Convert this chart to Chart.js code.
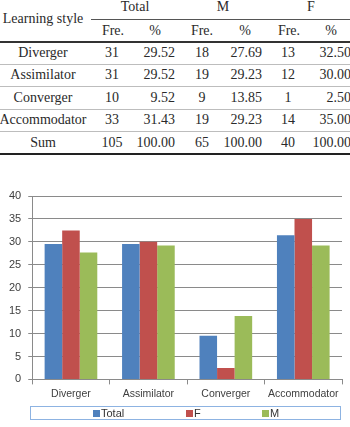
<!DOCTYPE html>
<html><head><meta charset="utf-8">
<script src="https://cdn.jsdelivr.net/npm/chart.js@4/dist/chart.umd.min.js"></script>
<style>
html,body{margin:0;padding:0;background:#fff;width:350px;height:427px;overflow:hidden;position:relative;}
#tbl{position:absolute;left:0;top:0;width:350px;height:160px;font-family:"Liberation Serif","Times New Roman",serif;font-size:14px;color:#2a2a2a;overflow:hidden;}
.t{position:absolute;white-space:nowrap;line-height:16px;height:16px;}
.c{transform:translateX(-50%);}
.r{transform:translateX(-100%);}
.ln{position:absolute;}
#wrap{position:absolute;left:0;top:160px;width:350px;height:267px;}
#leg{position:absolute;left:30px;top:406px;width:309px;height:12px;border:1px solid #8db3e2;font-family:"Liberation Sans",Arial,sans-serif;font-size:11px;color:#333;}
.li{position:absolute;top:0;line-height:12px;white-space:nowrap;}
.sw{display:inline-block;width:7px;height:7px;margin-right:1px;vertical-align:-0px;}
</style></head><body>
<div id="tbl"></div>
<div id="wrap"><canvas id="c" width="350" height="267"></canvas></div>
<div id="leg"></div>
<script>
// ---- data ----
const categories = ["Diverger", "Assimilator", "Converger", "Accommodator"];
const totalFreq = [31, 31, 10, 33];
const totalPct = [29.52, 29.52, 9.52, 31.43];
const maleFreq = [18, 19, 9, 19];
const malePct = [27.69, 29.23, 13.85, 29.23];
const femaleFreq = [13, 12, 1, 14];
const femalePct = [32.50, 30.00, 2.50, 35.00];
const sumRow = ["Sum", "105", "100.00", "65", "100.00", "40", "100.00"];
const seriesLabels = ["Total", "F", "M"];
const seriesColors = ["#4F81BD", "#C0504D", "#9BBB59"];

// ---- table ----
const tbl = document.getElementById('tbl');
function addText(txt, x, y, align) {
  const s = document.createElement('span');
  s.className = 't ' + (align === 'r' ? 'r' : 'c');
  s.textContent = txt;
  s.style.left = x + 'px';
  s.style.top = (y - 8) + 'px';
  tbl.appendChild(s);
}
function addLine(x1, x2, y, h, color) {
  const d = document.createElement('div');
  d.className = 'ln';
  d.style.left = x1 + 'px'; d.style.width = (x2 - x1) + 'px';
  d.style.top = y + 'px'; d.style.height = h + 'px';
  d.style.background = color;
  tbl.appendChild(d);
}
addText("Learning style", 43, 19);
addText("Total", 135, 7); addText("M", 223, 7); addText("F", 311, 7);
addLine(91, 350, 19, 1, "#555");
[[113, "Fre."], [155, "%"], [202, "Fre."], [245, "%"], [289, "Fre."], [331, "%"]].forEach(a => addText(a[1], a[0], 31));
addLine(0, 350, 41, 2, "#333");
const rowY = [53, 75, 98, 120];
categories.forEach((c, i) => {
  addText(c, 43, rowY[i]);
  addText(String(totalFreq[i]), 112, rowY[i]);
  addText(totalPct[i].toFixed(2), 175, rowY[i], 'r');
  addText(String(maleFreq[i]), 202, rowY[i]);
  addText(malePct[i].toFixed(2), 262, rowY[i], 'r');
  addText(String(femaleFreq[i]), 288, rowY[i]);
  addText(femalePct[i].toFixed(2), 351, rowY[i], 'r');
});
addText(sumRow[0], 43, 143);
addText(sumRow[1], 112, 143);
addText(sumRow[2], 175, 143, 'r');
addText(sumRow[3], 202, 143);
addText(sumRow[4], 262, 143, 'r');
addText(sumRow[5], 288, 143);
addText(sumRow[6], 351, 143, 'r');
[64, 86, 109, 131].forEach(y => addLine(0, 350, y, 1, "#bdbdbd"));
addLine(0, 350, 153, 2, "#222");

// ---- chart ----
const seriesData = [totalPct, femalePct, malePct];
const chart = new Chart(document.getElementById('c'), {
  type: 'bar',
  data: {
    labels: categories,
    datasets: seriesLabels.map((l, i) => ({
      label: l, data: seriesData[i], backgroundColor: seriesColors[i],
      borderWidth: 0, categoryPercentage: 0.68, barPercentage: 1.0
    }))
  },
  options: {
    responsive: false, animation: false, devicePixelRatio: 1,
    layout: { padding: { left: 2, right: 8, top: 36, bottom: 24 } },
    plugins: { legend: { display: false }, tooltip: { enabled: false } },
    scales: {
      y: {
        min: 0, max: 40,
        ticks: { stepSize: 5, padding: 7, color: '#404040', font: { family: 'Liberation Sans', size: 11 } },
        grid: { color: '#8a8a8a', tickLength: 4 },
        border: { color: '#8a8a8a' }
      },
      x: {
        offset: true,
        ticks: { padding: 3, color: '#404040', maxRotation: 0, minRotation: 0, autoSkip: false, font: { family: 'Liberation Sans', size: 10.5 } },
        grid: { offset: true, drawOnChartArea: false, color: '#8a8a8a', tickLength: 5 },
        border: { color: '#8a8a8a' }
      }
    }
  }
});

// ---- legend (built from the chart's datasets) ----
const leg = document.getElementById('leg');
const legX = [62, 155, 231];
chart.data.datasets.forEach((ds, i) => {
  const it = document.createElement('span');
  it.className = 'li';
  it.style.left = legX[i] + 'px';
  const sw = document.createElement('span');
  sw.className = 'sw';
  sw.style.background = ds.backgroundColor;
  it.appendChild(sw);
  it.appendChild(document.createTextNode(ds.label));
  leg.appendChild(it);
});
</script>
</body></html>
